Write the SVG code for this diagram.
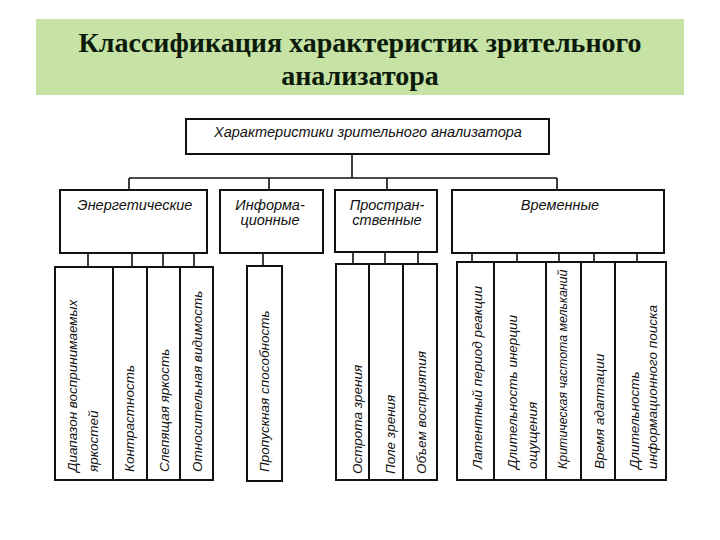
<svg xmlns="http://www.w3.org/2000/svg" width="720" height="540" viewBox="0 0 720 540">
<style>
.title{font-family:"Liberation Serif","Times New Roman",serif;font-weight:bold;font-size:28px;fill:#0b1a0b;text-anchor:middle}
.box{fill:#ffffff;stroke:#111;stroke-width:2}
.div{stroke:#111;stroke-width:2;fill:none}
.conn{stroke:#111;stroke-width:1.6;fill:none}
.h{font-family:"Liberation Sans",Arial,sans-serif;font-style:italic;font-size:14.5px;fill:#111;text-anchor:middle}
.v{font-family:"Liberation Sans",Arial,sans-serif;font-style:italic;font-size:13.5px;fill:#111;text-anchor:start;dominant-baseline:central}
.vs{font-size:12.4px}
</style>
<rect x="0" y="0" width="720" height="540" fill="#ffffff"/>
<g id="title">
<rect x="36" y="19" width="648" height="76" fill="#c6e2a4"/>
<text class="title" x="360" y="52">Классификация характеристик зрительного</text>
<text class="title" x="360" y="85">анализатора</text>
</g>
<g id="connectors">
<path class="conn" d="M352 154V178M129 178H557M129 178V190M269 178V190M387 178V190M557 178V190"/>
<path class="conn" d="M88 253V267M132 253V267M163 253V267M194 253V267"/>
<path class="conn" d="M263 253V266"/>
<path class="conn" d="M353 252V264M385 252V264M418 252V264"/>
<path class="conn" d="M472 253V262M517 253V262M559 253V262M594 253V262M637 253V262"/>
</g>
<g id="root">
<rect class="box" x="186" y="119" width="363" height="35"/>
<text class="h" x="368" y="137">Характеристики зрительного анализатора</text>
</g>
<g id="energ">
<rect class="box" x="60" y="190" width="147" height="63"/>
<text class="h" x="135" y="210">Энергетические</text>
</g>
<g id="inform">
<rect class="box" x="220" y="190" width="103" height="63"/>
<text class="h" x="270" y="210">Информа-</text>
<text class="h" x="270" y="225">ционные</text>
</g>
<g id="prostr">
<rect class="box" x="335" y="190" width="102" height="62"/>
<text class="h" x="387" y="210">Простран-</text>
<text class="h" x="387" y="225">ственные</text>
</g>
<g id="vrem">
<rect class="box" x="452" y="190" width="212" height="63"/>
<text class="h" x="560" y="210">Временные</text>
</g>
<g id="energ-leaves">
<rect class="box" x="55" y="267" width="158" height="213"/>
<path class="div" d="M113 267V480M147 267V480M180 267V480"/>
<text class="v" transform="translate(72 472) rotate(-90)">Диапазон воспринимаемых</text>
<text class="v" transform="translate(93 472) rotate(-90)">яркостей</text>
<text class="v" transform="translate(129 472) rotate(-90)">Контрастность</text>
<text class="v" transform="translate(164 472) rotate(-90)">Слепящая яркость</text>
<text class="v" transform="translate(197 472) rotate(-90)">Относительная видимость</text>
</g>
<g id="inform-leaves">
<rect class="box" x="247" y="266" width="35" height="215"/>
<text class="v" transform="translate(264 472) rotate(-90)">Пропускная способность</text>
</g>
<g id="prostr-leaves">
<rect class="box" x="336" y="264" width="101" height="216"/>
<path class="div" d="M369 264V480M403 264V480"/>
<text class="v" transform="translate(357 474) rotate(-90)">Острота зрения</text>
<text class="v" transform="translate(390 474) rotate(-90)">Поле зрения</text>
<text class="v" transform="translate(421 474) rotate(-90)">Объем восприятия</text>
</g>
<g id="vrem-leaves">
<rect class="box" x="457" y="262" width="209" height="218"/>
<path class="div" d="M494 262V480M546 262V480M581 262V480M615 262V480"/>
<text class="v" transform="translate(477 469) rotate(-90)">Латентный период реакции</text>
<text class="v" transform="translate(512 469) rotate(-90)">Длительность инерции</text>
<text class="v" transform="translate(532 469) rotate(-90)">ощущения</text>
<text class="v vs" transform="translate(563 469) rotate(-90)">Критическая частота мельканий</text>
<text class="v" transform="translate(599 469) rotate(-90)">Время адаптации</text>
<text class="v" transform="translate(634 469) rotate(-90)">Длительность</text>
<text class="v" transform="translate(652 469) rotate(-90)">информационного поиска</text>
</g>
</svg>
